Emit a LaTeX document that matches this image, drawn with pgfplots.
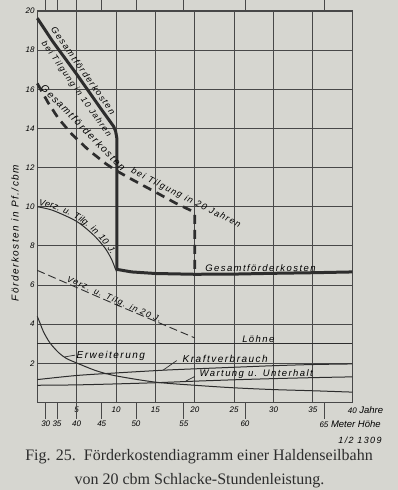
\documentclass[border=0pt]{standalone}
\usepackage{fontspec}
\setmainfont{Liberation Serif}
\newfontfamily\hand[LetterSpace=15]{Liberation Sans}
\newfontfamily\handn{Liberation Sans}
\usepackage{pgfplots}
\pgfplotsset{compat=1.18}
\usetikzlibrary{decorations.text,backgrounds,calc}
\definecolor{paper}{RGB}{214,214,208}
\definecolor{ink}{RGB}{45,45,45}
\definecolor{gridc}{RGB}{72,72,72}
\begin{document}
\begin{tikzpicture}
\begin{axis}[
  scale only axis, width=315pt, height=391.5pt,
  xmin=0, xmax=40, ymin=0, ymax=20,
  clip=false,
  axis line style={draw=gridc, line width=1.1pt},
  grid=major, major grid style={draw=gridc, line width=1.0pt},
  major tick length=0pt,
  xtick={5,10,...,40},
  xticklabels={5,10,15,20,25,30,35,{40\makebox[0pt][l]{\fontsize{9.5}{10}\selectfont\ Jahre}}},
  xticklabel style={font=\handn\itshape\fontsize{8}{8}\selectfont, inner sep=0pt, anchor=north, yshift=-4pt, fill=paper},
  ytick={2,4,...,20},
  yticklabels={2,4,6,8,10,12,14,16,18,20},
  yticklabel style={font=\handn\itshape\fontsize{8}{8}\selectfont, inner sep=0pt, anchor=east, xshift=-2.5pt},
  extra x ticks={1.07,2.5,5,8.18,12.53,18.6,26.37,36.4},
  extra x tick labels={30,35,40,45,50,55,60,{65\makebox[0pt][l]{\fontsize{9.5}{10}\selectfont\ Meter Höhe}}},
  extra x tick style={grid=none, major tick length=16pt, tick align=outside,
     tick style={draw=gridc, line width=0.8pt}, xticklabel style={yshift=2pt}},
  ylabel={Förderkosten in Pf./cbm},
  ylabel style={at={(axis description cs:-0.071,0.433)}, anchor=center, font=\hand\itshape\fontsize{10}{10}\selectfont},
]
\coordinate (O) at (axis cs:0,0);
% Loehne
\addplot[draw=ink, line width=1.1pt] coordinates {(0,3)(40,3)};
% Kraftverbrauch
\addplot[draw=ink, line width=1pt, smooth] coordinates {(0,1.17)(5,1.38)(10,1.51)(16,1.65)(20,1.72)(25,1.8)(30,1.88)(35,1.94)(40,1.97)};
% Wartung u. Unterhalt
\addplot[draw=ink, line width=1pt, smooth] coordinates {(0,0.88)(5,0.9)(10,0.95)(15,1.01)(20,1.09)(25,1.16)(30,1.22)(35,1.27)(40,1.31)};
% Erweiterung
\addplot[draw=ink, line width=1pt, smooth] coordinates {(0,4.4)(0.4,4.0)(0.8,3.6)(1.6,3.05)(2.7,2.55)(3.7,2.25)(5,2.02)(7.5,1.62)(10,1.36)(15,1.04)(20,0.88)(25,0.75)(30,0.66)(35,0.6)(40,0.53)};
% Verz. u. Tilg. in 20 J.
\addplot[draw=ink, line width=0.9pt, dash pattern=on 8pt off 4pt] coordinates {(0,6.75)(10,5.0)(20,3.3)};
% Verz. u. Tilg. in 10 J.
\addplot[draw=ink, line width=1pt, smooth,
  postaction={decorate, decoration={text along path, raise=1.8pt,
     text align={left indent=1pt},
     text={|\hand\itshape\fontsize{9}{9}\selectfont|Verz. u. Tilg. in 10 J.}}}]
  coordinates {(0,10.0)(2,9.81)(5,9.25)(7.1,8.57)(8.6,7.89)(9.45,7.3)(9.87,6.87)(10.05,6.7)};
% Gesamtfoerderkosten bei Tilgung in 10 Jahren
\addplot[draw=ink, line width=3pt, line join=round] coordinates {(0,19.63)(2,18.42)(5,16.77)(8,15.05)(9.7,14.1)(9.95,13.85)(10.1,13.5)(10.1,6.8)(12,6.67)(15,6.59)(20,6.55)(25,6.56)(30,6.6)(35,6.63)(40,6.67)};
% Gesamtfoerderkosten bei Tilgung in 20 Jahren
\addplot[draw=ink, line width=2.7pt, dash pattern=on 9pt off 6pt] coordinates {(0,16.3)(1.4,15.3)(2.7,14.5)(4.4,13.7)(6.5,12.9)(8.7,12.2)(10,11.85)(12,11.4)(15,10.75)(17.5,10.2)(19.8,9.75)(20,9.6)(20,6.55)};
% leader strokes
\addplot[draw=ink, line width=0.7pt] coordinates {(17.7,2.14)(16.0,1.66)};
\addplot[draw=ink, line width=0.7pt] coordinates {(4.8,2.42)(3.5,2.33)};
\addplot[draw=ink, line width=0.7pt] coordinates {(20.0,1.33)(18.8,1.08)};
% labels
\node[font=\hand\itshape\fontsize{9}{9}\selectfont, rotate=-54.8] at (axis cs:5.85,16.95) {Gesamtförderkosten};
\node[font=\hand\itshape\fontsize{8.5}{8.5}\selectfont, rotate=-54.8] at (axis cs:4.95,16.0) {bei Tilgung in 10 Jahren};
\node[font=\hand\itshape\fontsize{10}{10}\selectfont, rotate=-45.6] at (axis cs:5.84,14.05) {Gesamtförderkosten};
\node[font=\hand\itshape\fontsize{9}{9}\selectfont, rotate=-27] at (axis cs:18.86,10.43) {bei Tilgung in 20 Jahren};
\node[font=\hand\itshape\fontsize{8.5}{8.5}\selectfont, rotate=-24] at (axis cs:9.76,5.24) {Verz. u. Tilg. in 20 J.};
\node[font=\hand\itshape\fontsize{9.5}{9.5}\selectfont] at (axis cs:28.34,6.85) {Gesamtförderkosten};
\node[font=\hand\itshape\fontsize{9.5}{9.5}\selectfont] at (axis cs:28.07,3.25) {Löhne};
\node[font=\hand\itshape\fontsize{10}{10}\selectfont] at (axis cs:23.87,2.21) {Kraftverbrauch};
\node[font=\hand\itshape\fontsize{10}{10}\selectfont] at (axis cs:9.33,2.38) {Erweiterung};
\node[font=\hand\itshape\fontsize{9.5}{9.5}\selectfont] at (axis cs:27.8,1.46) {Wartung u. Unterhalt};
\end{axis}
\node[font=\hand\itshape\fontsize{9}{9}\selectfont] at ($(O)+(322.7pt,-37.5pt)$) {1/2 1309};
\node[anchor=base, font=\fontsize{16}{16}\selectfont, color=ink] at ($(O)+(161.7pt,-58pt)$) {Fig. 25.\ \ Förderkostendiagramm einer Haldenseilbahn};
\node[anchor=base, font=\fontsize{16}{16}\selectfont, color=ink] at ($(O)+(162.2pt,-82pt)$) {von 20 cbm Schlacke-Stundenleistung.};
\pgfresetboundingbox
\path[use as bounding box] ($(O)+(-37.3pt,-87.5pt)$) rectangle ($(O)+(360.7pt,402.5pt)$);
\begin{scope}[on background layer]
\fill[paper] ($(O)+(-37.3pt,-87.5pt)$) rectangle ($(O)+(360.7pt,402.5pt)$);
\end{scope}
\end{tikzpicture}
\end{document}
